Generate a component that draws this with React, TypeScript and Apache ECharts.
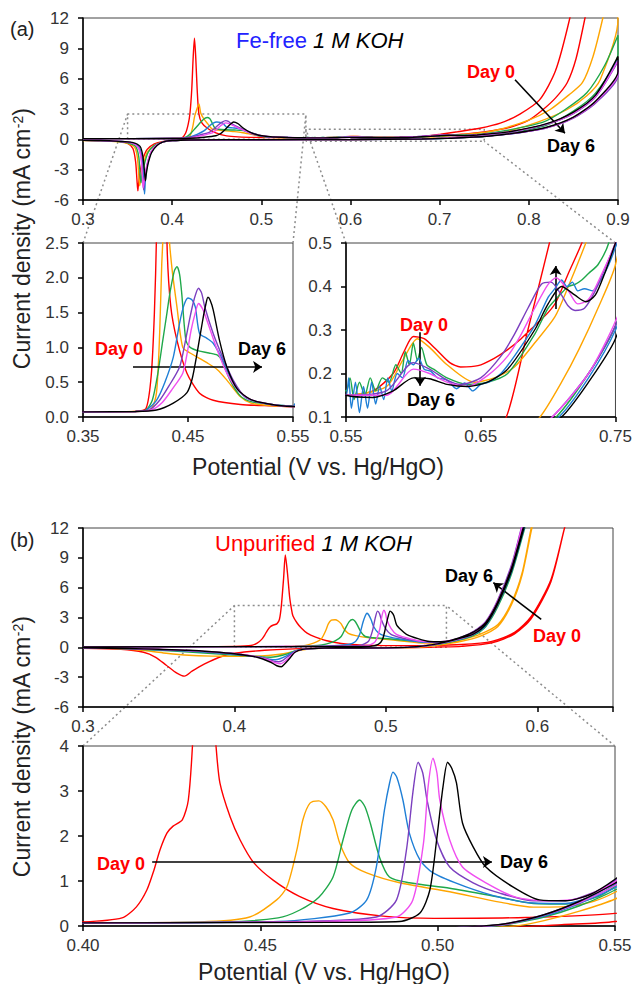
import React, { useEffect, useRef } from "react";
import * as echarts from "echarts";

const DAYS = ["Day 0", "Day 1", "Day 2", "Day 3", "Day 4", "Day 5", "Day 6"];
const COLORS = ["#ff0000", "#ffa500", "#1fa84a", "#1f7fd6", "#7b3fbf", "#f04ef0", "#000000"];

// ---------- (a) Fe-free 1 M KOH : forward (anodic) scans ----------
const aFwd0 = [[0.3,0.07],[0.35,0.07],[0.4,0.08],[0.41,0.12],[0.415,0.6],[0.418,1.5],[0.42,2.6],[0.422,5],[0.4235,8],[0.425,10.0],[0.4265,8],[0.428,5],[0.43,2.5],[0.4335,1.6],[0.4395,1.1],[0.449,0.63],[0.461,0.34],[0.474,0.24],[0.5,0.18],[0.53,0.16],[0.55,0.15],[0.57,0.16],[0.585,0.2],[0.593,0.25],[0.6,0.285],[0.608,0.28],[0.617,0.255],[0.627,0.225],[0.635,0.215],[0.648,0.218],[0.66,0.235],[0.67,0.255],[0.68,0.28],[0.69,0.31],[0.7,0.34],[0.706,0.365],[0.715,0.43],[0.725,0.5],[0.75,0.72],[0.779,1.2],[0.8,1.9],[0.816,2.95],[0.83,4.1],[0.843,5.6],[0.853,8],[0.863,12],[0.875,17]];
const aFwd1 = [[0.3,0.07],[0.4,0.08],[0.415,0.12],[0.42,0.35],[0.423,1.2],[0.425,2.2],[0.427,2.8],[0.43,3.5],[0.432,2.6],[0.435,2.1],[0.4395,1.58],[0.445,1.0],[0.452,0.92],[0.46,0.85],[0.468,0.78],[0.478,0.68],[0.487,0.53],[0.5,0.29],[0.51,0.2],[0.53,0.16],[0.55,0.15],[0.58,0.17],[0.592,0.23],[0.603,0.28],[0.612,0.26],[0.625,0.22],[0.645,0.18],[0.66,0.19],[0.675,0.215],[0.69,0.27],[0.705,0.33],[0.715,0.4],[0.728,0.5],[0.75,0.68],[0.768,1.0],[0.8,1.9],[0.824,2.95],[0.845,4.4],[0.86,5.6],[0.872,8.2],[0.883,12],[0.89,15]];
const aFwd2 = [[0.3,0.07],[0.4,0.08],[0.41,0.1],[0.416,0.24],[0.421,0.6],[0.426,1.1],[0.43,1.5],[0.433,1.8],[0.437,2.1],[0.4395,2.16],[0.442,2.05],[0.444,1.78],[0.448,1.1],[0.452,1.0],[0.46,0.95],[0.47,0.92],[0.478,0.89],[0.482,0.82],[0.49,0.53],[0.5,0.3],[0.51,0.22],[0.52,0.2],[0.535,0.17],[0.55,0.16],[0.553,0.19],[0.556,0.14],[0.56,0.18],[0.564,0.15],[0.568,0.19],[0.572,0.16],[0.577,0.19],[0.582,0.18],[0.587,0.22],[0.591,0.2],[0.594,0.25],[0.597,0.22],[0.6,0.27],[0.603,0.23],[0.606,0.26],[0.61,0.22],[0.615,0.21],[0.625,0.19],[0.64,0.175],[0.655,0.18],[0.67,0.2],[0.69,0.29],[0.7,0.35],[0.71,0.385],[0.715,0.4],[0.72,0.405],[0.725,0.415],[0.73,0.43],[0.737,0.45],[0.745,0.5],[0.77,0.8],[0.816,1.7],[0.84,2.9],[0.865,4.6],[0.885,7.3],[0.9,10.3]];
const aFwd3 = [[0.3,0.07],[0.4,0.08],[0.41,0.1],[0.42,0.24],[0.428,0.5],[0.436,0.86],[0.442,1.35],[0.446,1.6],[0.45,1.71],[0.454,1.68],[0.457,1.58],[0.461,1.2],[0.468,1.13],[0.474,1.06],[0.483,0.82],[0.493,0.49],[0.505,0.28],[0.515,0.22],[0.525,0.19],[0.535,0.17],[0.545,0.16],[0.55,0.15],[0.552,0.19],[0.554,0.12],[0.557,0.18],[0.56,0.11],[0.563,0.17],[0.566,0.12],[0.569,0.18],[0.572,0.13],[0.575,0.17],[0.578,0.14],[0.581,0.19],[0.584,0.16],[0.588,0.2],[0.592,0.19],[0.596,0.23],[0.6,0.22],[0.604,0.235],[0.608,0.21],[0.613,0.205],[0.618,0.19],[0.625,0.185],[0.632,0.165],[0.638,0.178],[0.644,0.16],[0.65,0.175],[0.656,0.18],[0.665,0.2],[0.675,0.24],[0.69,0.31],[0.7,0.375],[0.705,0.395],[0.71,0.415],[0.714,0.4],[0.718,0.41],[0.722,0.39],[0.727,0.395],[0.733,0.39],[0.74,0.42],[0.745,0.45],[0.75,0.49],[0.78,0.75],[0.82,1.5],[0.85,2.6],[0.875,4.3],[0.9,7.9]];
const aFwd4 = [[0.3,0.07],[0.4,0.08],[0.413,0.1],[0.423,0.24],[0.432,0.45],[0.442,0.72],[0.447,1.05],[0.452,1.44],[0.456,1.7],[0.46,1.85],[0.463,1.78],[0.466,1.58],[0.474,1.2],[0.483,0.86],[0.493,0.53],[0.505,0.28],[0.525,0.19],[0.55,0.15],[0.58,0.16],[0.6,0.225],[0.612,0.21],[0.625,0.185],[0.635,0.175],[0.65,0.19],[0.665,0.24],[0.675,0.29],[0.685,0.35],[0.695,0.405],[0.702,0.41],[0.71,0.38],[0.715,0.355],[0.72,0.345],[0.727,0.35],[0.735,0.39],[0.742,0.44],[0.75,0.5],[0.78,0.75],[0.82,1.5],[0.85,2.55],[0.875,4.2],[0.9,7.7]];
const aFwd5 = [[0.3,0.07],[0.4,0.08],[0.415,0.1],[0.425,0.2],[0.435,0.4],[0.445,0.63],[0.449,0.9],[0.453,1.25],[0.457,1.5],[0.46,1.63],[0.464,1.55],[0.468,1.39],[0.477,1.0],[0.487,0.63],[0.497,0.4],[0.51,0.25],[0.53,0.18],[0.55,0.15],[0.58,0.15],[0.6,0.21],[0.612,0.2],[0.625,0.18],[0.64,0.17],[0.655,0.195],[0.67,0.24],[0.68,0.29],[0.69,0.35],[0.7,0.405],[0.706,0.42],[0.715,0.39],[0.722,0.36],[0.73,0.37],[0.74,0.43],[0.75,0.5],[0.78,0.76],[0.82,1.5],[0.85,2.6],[0.875,4.25],[0.9,7.8]];
const aFwd6 = [[0.3,0.07],[0.4,0.08],[0.42,0.1],[0.436,0.2],[0.449,0.35],[0.454,0.55],[0.458,0.86],[0.464,1.39],[0.467,1.62],[0.469,1.72],[0.471,1.68],[0.474,1.54],[0.48,1.1],[0.487,0.72],[0.497,0.4],[0.51,0.25],[0.53,0.18],[0.55,0.15],[0.57,0.145],[0.585,0.16],[0.6,0.19],[0.612,0.188],[0.625,0.175],[0.64,0.17],[0.655,0.18],[0.67,0.21],[0.69,0.3],[0.7,0.36],[0.71,0.4],[0.72,0.38],[0.728,0.365],[0.735,0.38],[0.742,0.43],[0.75,0.5],[0.78,0.78],[0.82,1.55],[0.85,2.7],[0.875,4.4],[0.9,8.2]];

// ---------- (a) reverse (cathodic) scans ----------
const aRev0 = [[0.86,18],[0.846,12],[0.83,6.8],[0.812,3.9],[0.79,2.5],[0.768,1.6],[0.745,1.1],[0.72,0.75],[0.701,0.5],[0.685,0.3],[0.669,0.1],[0.65,0.02],[0.6,-0.02],[0.5,-0.03],[0.42,-0.05],[0.4,-0.1],[0.39,-0.2],[0.38,-0.45],[0.372,-1.0],[0.367,-2.0],[0.364,-3.3],[0.362,-4.6],[0.3615,-5.1],[0.3605,-4.0],[0.359,-2.2],[0.356,-0.9],[0.35,-0.4],[0.34,-0.2],[0.32,-0.12],[0.3,-0.1]];
const aRev1 = [[0.9,11.8],[0.88,5.9],[0.865,4.3],[0.843,2.95],[0.81,1.7],[0.78,0.9],[0.75,0.45],[0.737,0.35],[0.723,0.256],[0.71,0.18],[0.694,0.1],[0.67,0.03],[0.6,-0.02],[0.5,-0.04],[0.42,-0.06],[0.4,-0.12],[0.39,-0.25],[0.38,-0.6],[0.372,-1.3],[0.368,-2.4],[0.365,-3.8],[0.3635,-4.6],[0.3625,-3.5],[0.361,-1.8],[0.358,-0.8],[0.35,-0.4],[0.34,-0.25],[0.32,-0.15],[0.3,-0.12]];
const aRev2 = [[0.9,8.5],[0.875,4.6],[0.85,2.8],[0.82,1.4],[0.78,0.6],[0.75,0.31],[0.73,0.2],[0.706,0.1],[0.68,0.04],[0.6,-0.02],[0.5,-0.04],[0.42,-0.06],[0.4,-0.12],[0.39,-0.25],[0.38,-0.6],[0.373,-1.3],[0.369,-2.4],[0.366,-3.6],[0.365,-4.3],[0.364,-3.4],[0.3625,-1.7],[0.359,-0.7],[0.35,-0.35],[0.34,-0.22],[0.32,-0.13],[0.3,-0.1]];
const aRev3 = [[0.9,6.5],[0.875,3.7],[0.85,2.15],[0.82,1.15],[0.78,0.55],[0.75,0.3],[0.73,0.19],[0.708,0.1],[0.68,0.04],[0.6,-0.02],[0.5,-0.04],[0.42,-0.06],[0.4,-0.12],[0.39,-0.25],[0.382,-0.6],[0.376,-1.4],[0.372,-2.6],[0.37,-4.0],[0.369,-5.4],[0.368,-4.0],[0.3665,-2.0],[0.363,-0.8],[0.355,-0.35],[0.34,-0.2],[0.32,-0.12],[0.3,-0.1]];
const aRev4 = [[0.9,6.3],[0.875,3.6],[0.85,2.1],[0.82,1.15],[0.78,0.55],[0.75,0.31],[0.73,0.2],[0.703,0.1],[0.68,0.05],[0.6,-0.02],[0.5,-0.04],[0.42,-0.06],[0.4,-0.12],[0.39,-0.25],[0.382,-0.6],[0.376,-1.3],[0.372,-2.5],[0.369,-3.9],[0.368,-5.0],[0.367,-3.8],[0.3655,-1.9],[0.362,-0.8],[0.355,-0.35],[0.34,-0.2],[0.32,-0.12],[0.3,-0.1]];
const aRev5 = [[0.9,6.5],[0.875,3.7],[0.85,2.15],[0.82,1.15],[0.78,0.56],[0.75,0.32],[0.73,0.2],[0.703,0.1],[0.68,0.05],[0.6,-0.02],[0.5,-0.04],[0.42,-0.06],[0.4,-0.12],[0.39,-0.25],[0.382,-0.6],[0.376,-1.3],[0.372,-2.4],[0.369,-3.8],[0.3675,-4.8],[0.3665,-3.6],[0.365,-1.8],[0.362,-0.8],[0.355,-0.35],[0.34,-0.2],[0.32,-0.12],[0.3,-0.1]];
const aRev6 = [[0.9,6.7],[0.875,3.8],[0.85,2.2],[0.82,1.2],[0.78,0.56],[0.75,0.28],[0.73,0.18],[0.71,0.1],[0.68,0.04],[0.6,-0.02],[0.5,-0.04],[0.42,-0.06],[0.4,-0.12],[0.39,-0.25],[0.383,-0.6],[0.377,-1.3],[0.373,-2.4],[0.371,-3.4],[0.37,-4.1],[0.3688,-3.0],[0.367,-1.6],[0.364,-0.7],[0.355,-0.3],[0.34,-0.2],[0.32,-0.12],[0.3,-0.1]];

// ---------- (b) Unpurified 1 M KOH : forward scans ----------
const bFwd0 = [[0.3,0.05],[0.38,0.07],[0.4,0.09],[0.411,0.18],[0.415,0.42],[0.418,0.8],[0.42,1.24],[0.4217,1.69],[0.4237,2.07],[0.4254,2.22],[0.428,2.36],[0.4297,2.8],[0.431,4.2],[0.4325,7],[0.4336,9.3],[0.435,7.5],[0.4365,5],[0.4375,4],[0.4386,3.18],[0.4415,2.42],[0.4443,1.91],[0.448,1.42],[0.4536,1.02],[0.461,0.66],[0.4705,0.39],[0.4846,0.22],[0.499,0.17],[0.525,0.19],[0.55,0.28],[0.57,0.6],[0.585,1.5],[0.596,3.1],[0.609,6.8],[0.618,12],[0.625,16]];
const bFwd1 = [[0.3,0.05],[0.4,0.07],[0.433,0.09],[0.447,0.2],[0.4546,0.58],[0.4575,0.87],[0.4603,1.69],[0.462,2.36],[0.464,2.73],[0.4665,2.78],[0.4685,2.65],[0.4705,2.36],[0.4724,1.84],[0.4752,1.4],[0.48,1.18],[0.4893,0.96],[0.5034,0.76],[0.5175,0.53],[0.527,0.42],[0.536,0.43],[0.544,0.55],[0.55,0.75],[0.562,1.3],[0.574,2.3],[0.583,4.5],[0.59,7.5],[0.596,12],[0.602,16]];
const bFwd2 = [[0.3,0.05],[0.4,0.07],[0.44,0.09],[0.455,0.18],[0.461,0.35],[0.4665,0.64],[0.4705,1.09],[0.4733,1.91],[0.4758,2.58],[0.478,2.8],[0.4795,2.65],[0.481,2.29],[0.4836,1.53],[0.4864,1.09],[0.492,0.96],[0.5034,0.84],[0.5175,0.64],[0.527,0.5],[0.536,0.49],[0.545,0.65],[0.55,0.88],[0.558,1.4],[0.566,2.3],[0.574,4.3],[0.583,7.6],[0.591,11.8],[0.597,15]];
const bFwd3 = [[0.3,0.05],[0.4,0.07],[0.455,0.1],[0.4752,0.29],[0.48,0.58],[0.4827,1.31],[0.485,2.58],[0.4865,3.2],[0.4874,3.42],[0.4885,3.3],[0.4902,2.8],[0.492,2.07],[0.495,1.47],[0.4987,1.18],[0.508,0.87],[0.5175,0.64],[0.527,0.51],[0.536,0.5],[0.545,0.7],[0.55,0.92],[0.558,1.45],[0.566,2.4],[0.574,4.5],[0.583,7.9],[0.591,12.1],[0.597,15.3]];
const bFwd4 = [[0.3,0.05],[0.4,0.07],[0.46,0.1],[0.4827,0.2],[0.4884,0.58],[0.4912,1.69],[0.493,2.96],[0.4945,3.64],[0.4958,3.4],[0.497,2.8],[0.4997,1.91],[0.5034,1.31],[0.51,0.96],[0.5175,0.73],[0.527,0.56],[0.536,0.56],[0.545,0.78],[0.55,1.02],[0.558,1.6],[0.566,2.6],[0.574,4.8],[0.583,8.3],[0.59,12.3],[0.596,15.5]];
const bFwd5 = [[0.3,0.05],[0.4,0.07],[0.465,0.1],[0.4884,0.2],[0.493,0.58],[0.496,1.84],[0.4973,3.09],[0.4987,3.73],[0.4998,3.4],[0.5006,2.8],[0.5034,1.91],[0.507,1.31],[0.5136,0.96],[0.522,0.64],[0.531,0.56],[0.54,0.62],[0.55,0.98],[0.558,1.55],[0.566,2.55],[0.574,4.7],[0.583,8.1],[0.59,12.2],[0.596,15.4]];
const bFwd6 = [[0.3,0.05],[0.4,0.07],[0.47,0.08],[0.4893,0.1],[0.495,0.29],[0.4978,0.8],[0.4997,1.91],[0.5015,3.09],[0.5028,3.64],[0.504,3.5],[0.5053,3.18],[0.507,2.29],[0.51,1.76],[0.5136,1.31],[0.5212,0.87],[0.5287,0.58],[0.536,0.56],[0.543,0.7],[0.55,1.04],[0.558,1.55],[0.566,2.5],[0.574,4.6],[0.583,8.0],[0.591,12.2],[0.597,15.5]];

// ---------- (b) reverse scans ----------
const bRev0 = [[0.625,16],[0.618,12],[0.609,6.6],[0.596,2.9],[0.585,1.35],[0.57,0.45],[0.55,0.1],[0.535,0.03],[0.52,-0.03],[0.48,-0.08],[0.45,-0.1],[0.42,-0.3],[0.4,-0.6],[0.39,-1.0],[0.38,-1.7],[0.372,-2.4],[0.367,-2.9],[0.362,-2.6],[0.355,-1.8],[0.348,-1.0],[0.34,-0.5],[0.325,-0.2],[0.3,-0.1]];
const bRev1 = [[0.602,15.8],[0.596,11.7],[0.59,7.3],[0.583,4.3],[0.574,2.1],[0.562,1.1],[0.55,0.6],[0.54,0.33],[0.53,0.12],[0.522,0.0],[0.5,-0.05],[0.47,-0.07],[0.46,-0.1],[0.45,-0.15],[0.44,-0.4],[0.43,-0.7],[0.415,-0.88],[0.4,-0.9],[0.385,-0.88],[0.37,-0.8],[0.355,-0.6],[0.345,-0.4],[0.33,-0.2],[0.31,-0.08],[0.3,-0.05]];
const bRev2 = [[0.597,15],[0.591,11.6],[0.583,7.4],[0.574,4.1],[0.566,2.1],[0.558,1.2],[0.55,0.8],[0.54,0.45],[0.53,0.2],[0.52,0.04],[0.516,0],[0.5,-0.05],[0.47,-0.07],[0.46,-0.08],[0.445,-0.2],[0.44,-0.35],[0.435,-0.65],[0.428,-0.92],[0.424,-1.0],[0.418,-0.95],[0.405,-0.82],[0.39,-0.68],[0.375,-0.52],[0.36,-0.38],[0.34,-0.22],[0.32,-0.1],[0.3,-0.05]];
const bRev3 = [[0.597,15.2],[0.591,11.8],[0.583,7.6],[0.574,4.3],[0.566,2.2],[0.558,1.3],[0.55,0.85],[0.54,0.5],[0.53,0.22],[0.52,0.05],[0.515,0],[0.5,-0.05],[0.47,-0.07],[0.46,-0.08],[0.445,-0.2],[0.44,-0.38],[0.435,-0.8],[0.43,-1.15],[0.427,-1.25],[0.423,-1.18],[0.415,-0.95],[0.4,-0.7],[0.385,-0.52],[0.37,-0.38],[0.35,-0.25],[0.33,-0.13],[0.3,-0.05]];
const bRev4 = [[0.596,15.3],[0.59,12],[0.583,8.0],[0.574,4.5],[0.566,2.4],[0.558,1.4],[0.55,0.95],[0.54,0.55],[0.53,0.25],[0.52,0.06],[0.514,0],[0.5,-0.05],[0.47,-0.07],[0.46,-0.08],[0.445,-0.2],[0.44,-0.42],[0.435,-0.95],[0.432,-1.3],[0.429,-1.45],[0.426,-1.38],[0.42,-1.1],[0.41,-0.85],[0.4,-0.65],[0.385,-0.48],[0.37,-0.34],[0.35,-0.22],[0.33,-0.12],[0.3,-0.05]];
const bRev5 = [[0.596,15.2],[0.59,11.9],[0.583,7.9],[0.574,4.4],[0.566,2.35],[0.558,1.35],[0.55,0.9],[0.54,0.52],[0.53,0.24],[0.52,0.05],[0.514,0],[0.5,-0.05],[0.47,-0.07],[0.46,-0.08],[0.445,-0.2],[0.44,-0.45],[0.436,-1.05],[0.433,-1.45],[0.4305,-1.65],[0.427,-1.55],[0.422,-1.25],[0.413,-0.9],[0.4,-0.62],[0.385,-0.45],[0.37,-0.32],[0.35,-0.2],[0.33,-0.12],[0.3,-0.05]];
const bRev6 = [[0.597,15.2],[0.591,11.9],[0.583,7.7],[0.574,4.4],[0.566,2.3],[0.558,1.35],[0.55,0.95],[0.54,0.55],[0.53,0.25],[0.52,0.06],[0.513,0],[0.5,-0.05],[0.47,-0.07],[0.46,-0.08],[0.445,-0.2],[0.44,-0.5],[0.436,-1.2],[0.433,-1.7],[0.431,-1.95],[0.428,-1.85],[0.424,-1.5],[0.415,-1.0],[0.4,-0.65],[0.385,-0.45],[0.37,-0.3],[0.35,-0.2],[0.33,-0.12],[0.3,-0.05]];

// zoom-region boxes (data coords of the overview panels)
const boxA1 = [[0.35,0],[0.35,2.5],[0.55,2.5],[0.55,0],[0.35,0]];
const boxA2 = [[0.55,-0.2],[0.55,1.0],[0.75,1.0],[0.75,-0.2],[0.55,-0.2]];
const boxB = [[0.4,0],[0.4,4.2],[0.54,4.2],[0.54,0],[0.4,0]];

// arrows (data coords)
const arrowsA0 = [[[0.7845,5.9],[0.8405,0.6]]];
const arrowsA1 = [[[0.3976,0.72],[0.5205,0.72]]];
const arrowsA2 = [[[0.605,0.295],[0.605,0.172]],[[0.7056,0.348],[0.7056,0.447]]];
const arrowsB0 = [[[0.6026,2.8],[0.571,6.5]]];
const arrowsB1 = [[[0.4195,1.42],[0.5153,1.42]]];

// connectors: [grid, point, grid, point]
const CONNECTORS: [number, number[], number, number[]][] = [
  [1, [0.35, 2.5], 0, [0.35, 2.5]],
  [1, [0.55, 2.5], 0, [0.55, 2.5]],
  [2, [0.55, 0.5], 0, [0.55, 1.0]],
  [2, [0.75, 0.5], 0, [0.75, -0.2]],
  [4, [0.4, 4], 3, [0.4, 4.2]],
  [4, [0.55, 4], 3, [0.54, 4.2]],
];

const A_LOOPS = [aFwd0.concat(aRev0), aFwd1.concat(aRev1), aFwd2.concat(aRev2), aFwd3.concat(aRev3), aFwd4.concat(aRev4), aFwd5.concat(aRev5), aFwd6.concat(aRev6)];
const B_LOOPS = [bFwd0.concat(bRev0), bFwd1.concat(bRev1), bFwd2.concat(bRev2), bFwd3.concat(bRev3), bFwd4.concat(bRev4), bFwd5.concat(bRev5), bFwd6.concat(bRev6)];

const FONT = "Liberation Sans";

function fmtStep(step: number, digits: number) {
  return (v: number) => {
    const k = v / step;
    return Math.abs(k - Math.round(k)) < 1e-6 ? v.toFixed(digits) : "";
  };
}

function axis(gridIndex: number, min: number, max: number, interval: number, fmt: (v: number) => string, isX: boolean) {
  return {
    type: "value",
    gridIndex,
    min,
    max,
    interval,
    axisLine: { show: true, onZero: false, lineStyle: { color: "#000", width: 1.5 } },
    axisTick: { show: true, length: 5, lineStyle: { color: "#000", width: 1.5 } },
    splitLine: { show: false },
    axisLabel: { color: "#333", fontSize: 17, fontFamily: FONT, margin: isX ? 11 : 14, formatter: fmt },
  };
}

function arrowMark(arrows: number[][][]) {
  return {
    silent: true,
    symbol: ["none", "arrow"],
    symbolSize: 9,
    label: { show: false },
    lineStyle: { color: "#000", width: 1.6, type: "solid" },
    emphasis: { disabled: true },
    data: arrows.map((a) => [{ coord: a[0] }, { coord: a[1] }]),
  };
}

function buildOption() {
  const grids = [
    { left: 83, top: 18, width: 535, height: 182 },
    { left: 83, top: 243, width: 210, height: 174 },
    { left: 346, top: 243, width: 270, height: 174 },
    { left: 83, top: 528, width: 530, height: 179 },
    { left: 83, top: 746, width: 532, height: 180 },
  ].map((g) => ({ ...g, show: true, borderColor: "#444", borderWidth: 1, backgroundColor: "transparent" }));

  const xAxis = [
    axis(0, 0.3, 0.9, 0.1, fmtStep(0.1, 1), true),
    axis(1, 0.35, 0.55, 0.1, (v: number) => v.toFixed(2), true),
    axis(2, 0.55, 0.75, 0.1, (v: number) => v.toFixed(2), true),
    axis(3, 0.3, 0.65, 0.1, fmtStep(0.1, 1), true),
    axis(4, 0.4, 0.55, 0.05, (v: number) => v.toFixed(2), true),
  ];
  const yAxis = [
    axis(0, -6, 12, 3, (v: number) => String(Math.round(v)), false),
    axis(1, 0, 2.5, 0.5, (v: number) => v.toFixed(1), false),
    axis(2, 0.1, 0.5, 0.1, (v: number) => v.toFixed(1), false),
    axis(3, -6, 12, 3, (v: number) => String(Math.round(v)), false),
    axis(4, 0, 4, 1, (v: number) => String(Math.round(v)), false),
  ];

  const series: any[] = [];
  const boxStyle = { color: "#8c8c8c", width: 1.5, type: [2, 3] };
  series.push({ type: "line", xAxisIndex: 0, yAxisIndex: 0, data: boxA1, symbol: "none", clip: false, silent: true, lineStyle: boxStyle, z: 1 });
  series.push({ type: "line", xAxisIndex: 0, yAxisIndex: 0, data: boxA2, symbol: "none", clip: false, silent: true, lineStyle: boxStyle, z: 1 });
  series.push({ type: "line", xAxisIndex: 3, yAxisIndex: 3, data: boxB, symbol: "none", clip: false, silent: true, lineStyle: boxStyle, z: 1 });

  const arrowsByGrid: Record<number, number[][][]> = { 0: arrowsA0, 1: arrowsA1, 2: arrowsA2, 3: arrowsB0, 4: arrowsB1 };

  const addGroup = (g: number, loops: number[][][]) => {
    loops.forEach((d, i) => {
      const s: any = {
        type: "line",
        name: DAYS[i],
        xAxisIndex: g,
        yAxisIndex: g,
        data: d,
        symbol: "none",
        showSymbol: false,
        smooth: 0.25,
        clip: true,
        silent: true,
        lineStyle: { color: COLORS[i], width: 1.4 },
        itemStyle: { color: COLORS[i] },
        z: 2 + i,
      };
      if (i === loops.length - 1) s.markLine = arrowMark(arrowsByGrid[g]);
      series.push(s);
    });
  };
  [0, 1, 2].forEach((g) => addGroup(g, A_LOOPS));
  [3, 4].forEach((g) => addGroup(g, B_LOOPS));

  return { animation: false, backgroundColor: "#fff", grid: grids, xAxis, yAxis, series };
}

function txt(text: string, x: number, y: number, fill: string, fontSize: number, extra: any = {}) {
  return {
    type: "text",
    x,
    y,
    silent: true,
    z: 100,
    style: {
      text,
      fill,
      fontSize,
      fontFamily: FONT,
      align: "left",
      verticalAlign: "middle",
      textAlign: "left",
      textVerticalAlign: "middle",
      ...extra,
    },
  };
}

function texts() {
  const rot = (text: string, x: number, y: number) => ({
    type: "text",
    x,
    y,
    rotation: Math.PI / 2,
    silent: true,
    z: 100,
    style: {
      text,
      fill: "#222",
      fontSize: 23,
      fontFamily: FONT,
      align: "center",
      verticalAlign: "middle",
      textAlign: "center",
      textVerticalAlign: "middle",
      rich: { sup: { fontSize: 14, fontFamily: FONT, fill: "#222", color: "#222", verticalAlign: "top", lineHeight: 14 } },
    },
  });
  const titleRich = (a: string, ca: string, x: number, y: number) =>
    txt(`{a|${a}} {b|1 M KOH}`, x, y, "#000", 22, {
      rich: {
        a: { fill: ca, color: ca, fontSize: 22, fontFamily: FONT },
        b: { fill: "#000", color: "#000", fontSize: 22, fontFamily: FONT, fontStyle: "italic" },
      },
    });
  const bold = { fontWeight: "bold" };
  return [
    txt("(a)", 10, 29, "#222", 20),
    txt("(b)", 10, 540, "#222", 20),
    titleRich("Fe-free", "#2222ff", 236, 40),
    titleRich("Unpurified", "#ff0000", 215, 543),
    txt("Day 0", 467, 72, "#ff0000", 18, bold),
    txt("Day 6", 547, 146, "#000", 18, bold),
    txt("Day 0", 95, 349, "#ff0000", 18, bold),
    txt("Day 6", 238, 349, "#000", 18, bold),
    txt("Day 0", 400, 325, "#ff0000", 18, bold),
    txt("Day 6", 407, 400, "#000", 18, bold),
    txt("Day 6", 445, 576, "#000", 18, bold),
    txt("Day 0", 533, 636, "#ff0000", 18, bold),
    txt("Day 0", 97, 864, "#ff0000", 18, bold),
    txt("Day 6", 500, 862, "#000", 18, bold),
    txt("Potential (V vs. Hg/HgO)", 318, 467, "#222", 23, { align: "center", textAlign: "center" }),
    txt("Potential (V vs. Hg/HgO)", 324, 972, "#222", 23, { align: "center", textAlign: "center" }),
    rot("Current density (mA cm{sup|-2})", 22, 239),
    rot("Current density (mA cm{sup|-2})", 22, 747),
  ];
}

export default function App() {
  const ref = useRef<HTMLDivElement>(null);
  useEffect(() => {
    document.body.style.margin = "0";
    const chart = echarts.init(ref.current as HTMLDivElement, undefined, { renderer: "svg" });
    chart.setOption(buildOption() as any);
    const p = (g: number, v: number[]) => chart.convertToPixel({ gridIndex: g } as any, v) as unknown as number[];
    const conn = CONNECTORS.map(([g1, v1, g2, v2]) => {
      const a = p(g1, v1);
      const b = p(g2, v2);
      return {
        type: "line",
        silent: true,
        z: 0,
        shape: { x1: a[0], y1: a[1], x2: b[0], y2: b[1] },
        style: { stroke: "#8c8c8c", lineWidth: 1.5, lineDash: [2, 3] },
      };
    });
    chart.setOption({ graphic: { elements: [...texts(), ...conn] } } as any);
    return () => chart.dispose();
  }, []);
  return <div ref={ref} style={{ width: 635, height: 984 }} />;
}
